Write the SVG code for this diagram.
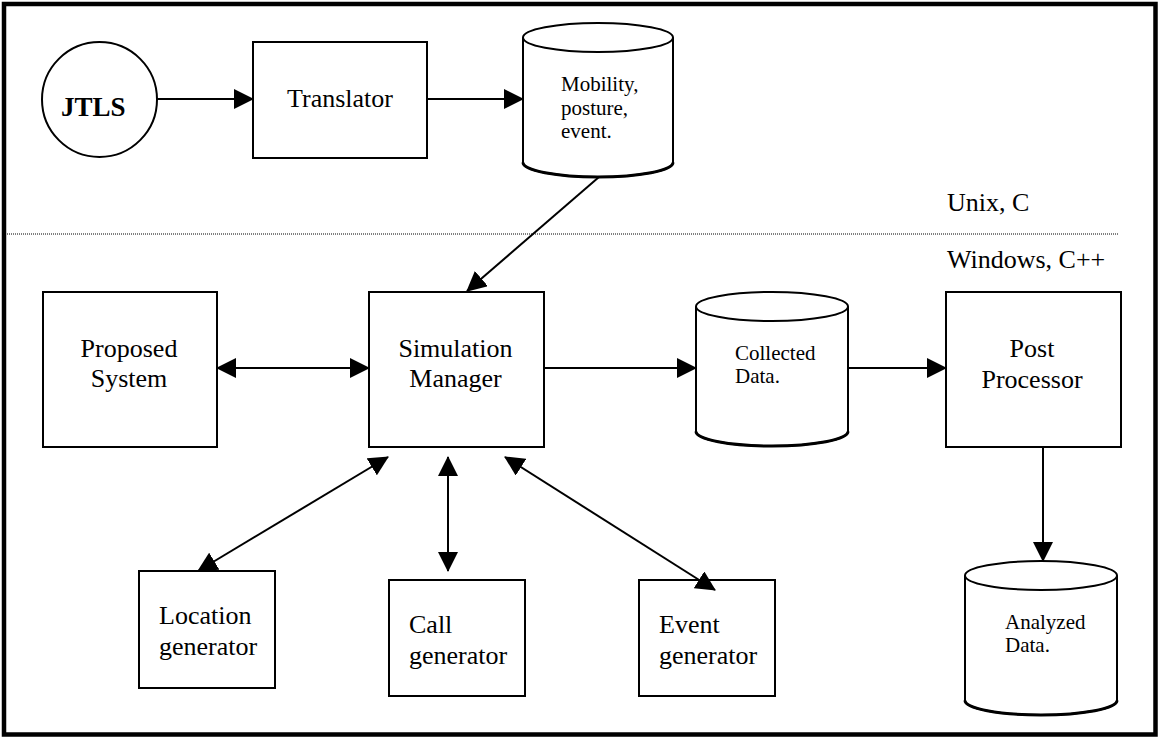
<svg xmlns="http://www.w3.org/2000/svg" width="1160" height="738" viewBox="0 0 1160 738">
<style>
.box{fill:#fff;stroke:#000;stroke-width:2}
.cyl{fill:#fff;stroke:#000;stroke-width:2}
.base{fill:none;stroke:#000;stroke-width:3}
.lbl{font-family:"Liberation Serif","Times New Roman",serif;font-size:26px;fill:#000}
.sm{font-family:"Liberation Serif","Times New Roman",serif;font-size:21px;fill:#000}
.c{text-anchor:middle}
.conn{fill:none;stroke:#000;stroke-width:2}
</style>
<defs>
<marker id="ah" markerUnits="userSpaceOnUse" markerWidth="20" markerHeight="20" refX="19" refY="10" orient="auto-start-reverse" viewBox="0 0 20 20">
<path d="M0,0 L20,10 L0,20 z" fill="#000"/>
</marker>
</defs>
<rect x="0" y="0" width="1160" height="738" fill="#fff"/>
<rect x="4" y="4" width="1151.5" height="730.5" fill="none" stroke="#000" stroke-width="4.5"/>
<line x1="7" y1="234" x2="1118" y2="234" stroke="#000" stroke-width="1" stroke-dasharray="1 1"/>
<text class="lbl" x="947" y="211">Unix, C</text>
<text class="lbl" x="947" y="268">Windows, C++</text>

<g id="jtls">
<circle cx="99.5" cy="99.5" r="57.5" class="box"/>
<text x="61" y="116" font-family="'Liberation Serif','Times New Roman',serif" font-size="27" font-weight="bold">JTLS</text>
</g>
<g id="translator">
<rect class="box" x="253" y="42" width="174" height="116"/>
<text class="lbl c" x="340" y="107">Translator</text>
</g>
<g id="mobility">
<path class="cyl" d="M523,37.5 L523,162.5 A75,14.5 0 0 0 673,162.5 L673,37.5"/>
<path class="base" d="M523,162.5 A75,14.5 0 0 0 673,162.5"/>
<ellipse class="cyl" cx="598" cy="37.5" rx="75" ry="14.5"/>
<text class="sm" x="561" y="91">Mobility,</text>
<text class="sm" x="561" y="114.5">posture,</text>
<text class="sm" x="561" y="138">event.</text>
</g>
<g id="proposed">
<rect class="box" x="43" y="292" width="174" height="155"/>
<text class="lbl c" x="129" y="357">Proposed</text>
<text class="lbl c" x="129" y="387">System</text>
</g>
<g id="simmanager">
<rect class="box" x="369" y="292" width="175" height="155"/>
<text class="lbl c" x="455.5" y="357">Simulation</text>
<text class="lbl c" x="455.5" y="387">Manager</text>
</g>
<g id="collected">
<path class="cyl" d="M696,306.5 L696,431.5 A76,14.5 0 0 0 848,431.5 L848,306.5"/>
<path class="base" d="M696,431.5 A76,14.5 0 0 0 848,431.5"/>
<ellipse class="cyl" cx="772" cy="306.5" rx="76" ry="14.5"/>
<text class="sm" x="735" y="360">Collected</text>
<text class="sm" x="735" y="383">Data.</text>
</g>
<g id="postprocessor">
<rect class="box" x="946" y="292" width="175" height="155"/>
<text class="lbl c" x="1032" y="357">Post</text>
<text class="lbl c" x="1032" y="388">Processor</text>
</g>
<g id="analyzed">
<path class="cyl" d="M965,575.5 L965,700.5 A76,14.5 0 0 0 1117,700.5 L1117,575.5"/>
<path class="base" d="M965,700.5 A76,14.5 0 0 0 1117,700.5"/>
<ellipse class="cyl" cx="1041" cy="575.5" rx="76" ry="14.5"/>
<text class="sm" x="1005" y="629">Analyzed</text>
<text class="sm" x="1005" y="652">Data.</text>
</g>
<g id="location">
<rect class="box" x="139" y="571" width="136" height="117"/>
<text class="lbl" x="159" y="624">Location</text>
<text class="lbl" x="159" y="655">generator</text>
</g>
<g id="call">
<rect class="box" x="389" y="580" width="136" height="116"/>
<text class="lbl" x="409" y="633">Call</text>
<text class="lbl" x="409" y="664">generator</text>
</g>
<g id="event">
<rect class="box" x="639" y="580" width="136" height="116"/>
<text class="lbl" x="659" y="633">Event</text>
<text class="lbl" x="659" y="664">generator</text>
</g>

<g id="connectors">
<line class="conn" x1="157" y1="99" x2="253" y2="99" marker-end="url(#ah)"/>
<line class="conn" x1="427" y1="99" x2="523" y2="99" marker-end="url(#ah)"/>
<line class="conn" x1="599" y1="177" x2="467" y2="291" marker-end="url(#ah)"/>
<line class="conn" x1="217" y1="368" x2="369" y2="368" marker-start="url(#ah)" marker-end="url(#ah)"/>
<line class="conn" x1="544" y1="368" x2="696" y2="368" marker-end="url(#ah)"/>
<line class="conn" x1="848" y1="368" x2="946" y2="368" marker-end="url(#ah)"/>
<line class="conn" x1="1043" y1="447" x2="1043" y2="561" marker-end="url(#ah)"/>
<line class="conn" x1="388" y1="457" x2="198" y2="571" marker-start="url(#ah)" marker-end="url(#ah)"/>
<line class="conn" x1="448" y1="457" x2="448" y2="571" marker-start="url(#ah)" marker-end="url(#ah)"/>
<line class="conn" x1="505" y1="457" x2="715" y2="590" marker-start="url(#ah)" marker-end="url(#ah)"/>
</g>
</svg>
